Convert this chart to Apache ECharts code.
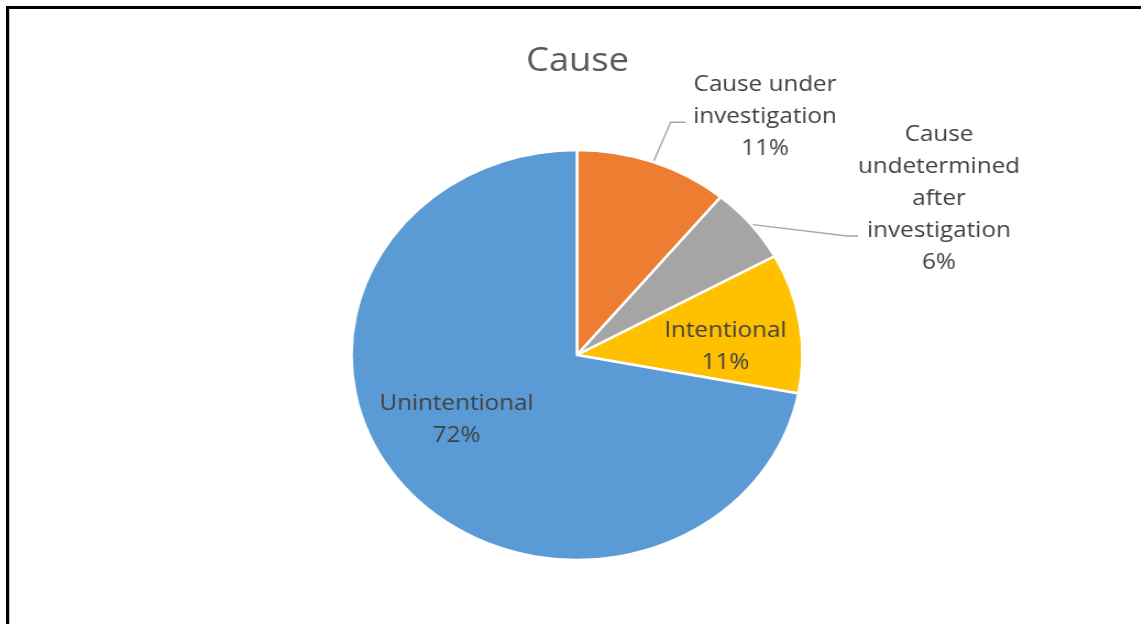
<!DOCTYPE html>
<html>
<head>
<meta charset="utf-8">
<script src="https://cdn.jsdelivr.net/npm/echarts@6/dist/echarts.min.js"></script>
<style>
  html, body { margin: 0; padding: 0; width: 1141px; height: 624px; overflow: hidden; background: #fff; }
  #chart { position: absolute; left: 0; top: 0; width: 1037px; height: 624px; transform: scaleX(1.1); transform-origin: 0 0; }
  #frame { position: absolute; left: 6px; top: 6px; width: 1300px; height: 800px; border-top: 3px solid #000; border-left: 3px solid #000; pointer-events: none; }
  #frame2 { position: absolute; left: 9px; top: 9px; width: 1300px; height: 800px; border-left: 1px solid #c8c8c8; pointer-events: none; }
</style>
</head>
<body>
<div id="chart"></div>
<div id="frame"></div>
<div id="frame2"></div>
<script>
// ---- data ----
const title = 'Cause';
const categories = ['Cause under investigation', 'Cause undetermined after investigation', 'Intentional', 'Unintentional'];
const values = [11, 6, 11, 72];
const labelLines = [
  ['Cause under', 'investigation'],
  ['Cause', 'undetermined', 'after', 'investigation'],
  ['Intentional'],
  ['Unintentional']
];

// ---- styles / layout ----
const colors = ['#ED7D31', '#A5A5A5', '#FFC000', '#5B9BD5'];
const labelPlacement = [
  { pos: 'outside', x: 695.5, y: 117, bend: [609.7, 122.3], end: [623.4, 122.3] },
  { pos: 'outside', x: 853.6, y: 198.5, bend: [770, 236], end: [780, 236] },
  { pos: 'inside', x: 659.5, y: 347 },
  { pos: 'inside', x: 415, y: 419.5 }
];

const chart = echarts.init(document.getElementById('chart'), null, { renderer: 'canvas' });
const option = {
  animation: false,
  color: colors,
  title: {
    text: title,
    left: 520,
    top: 40,
    textAlign: 'center',
    textStyle: { fontFamily: 'Open Sans', fontSize: 33, fontWeight: 'normal', color: '#595959' }
  },
  series: [{
    type: 'pie',
    center: [524.5, 355],
    radius: 205,
    startAngle: 90,
    clockwise: true,
    avoidLabelOverlap: false,
    percentPrecision: 0,
    silent: true,
    itemStyle: { borderColor: '#ffffff', borderWidth: 2.5 },
    label: {
      fontFamily: 'Open Sans',
      fontSize: 22,
      color: '#404040',
      formatter: function (p) {
        const lines = labelLines[p.dataIndex].concat([p.percent + '%']);
        return lines.map(function (s) { return '{t|' + s + '}'; }).join('\n');
      },
      rich: {
        t: { fontFamily: 'Open Sans', fontSize: 22, lineHeight: 32, color: '#404040', align: 'center' }
      }
    },
    labelLine: { lineStyle: { color: '#A6A6A6', width: 1.4 }, smooth: false, length: 20, length2: 20 },
    labelLayout: function (p) {
      const a = labelPlacement[p.dataIndex];
      const out = { x: a.x, y: a.y, align: 'center', verticalAlign: 'middle' };
      if (a.bend && p.labelLinePoints && p.labelLinePoints.length) {
        out.labelLinePoints = [p.labelLinePoints[0], a.bend, a.end];
      }
      return out;
    },
    data: categories.map(function (n, i) {
      const inside = labelPlacement[i].pos === 'inside';
      return {
        name: n,
        value: values[i],
        label: { position: inside ? 'inside' : 'outside' },
        labelLine: { show: !inside }
      };
    })
  }]
};
chart.setOption(option);
</script>
</body>
</html>
